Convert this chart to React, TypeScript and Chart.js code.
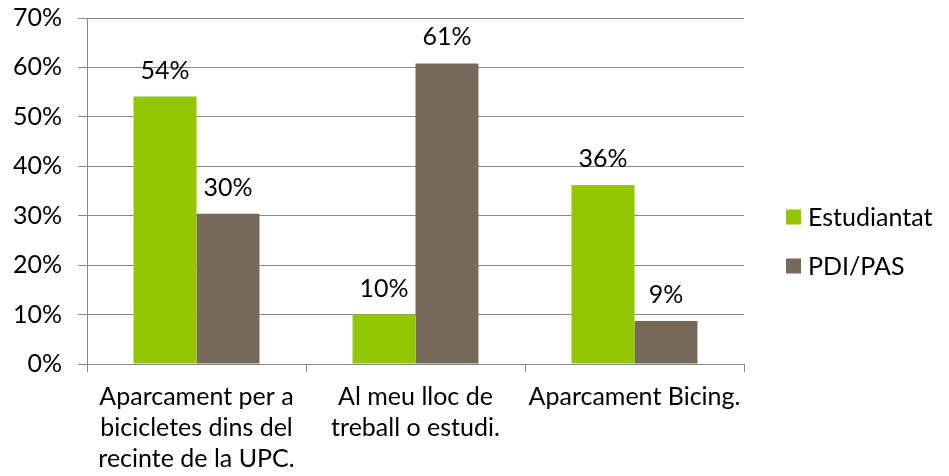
import React, { useEffect, useRef } from "react";
import { Chart, registerables } from "chart.js";

Chart.register(...registerables);

const categories: string[][] = [
  ["Aparcament per a", "bicicletes dins del", "recinte de la UPC."],
  ["Al meu lloc de", "treball o estudi."],
  ["Aparcament Bicing."],
];
const seriesNames = ["Estudiantat", "PDI/PAS"];
const estudiantat = [54.1, 10.0, 36.2];
const pdiPas = [30.4, 60.8, 8.7];
const yTicks = [0, 10, 20, 30, 40, 50, 60, 70];

const GREEN = "#94C600";
const BROWN = "#75695A";
const GRID = "#898989";
const FONT = "Lato, Carlito, 'Noto Sans', sans-serif";
const FSIZE = 25;

const valueLabels = {
  id: "valueLabels",
  afterDatasetsDraw(chart: any) {
    const ctx = chart.ctx;
    ctx.save();
    ctx.font = `${FSIZE}px ${FONT}`;
    ctx.fillStyle = "#000";
    ctx.textAlign = "center";
    ctx.textBaseline = "alphabetic";
    chart.data.datasets.forEach((ds: any, di: number) => {
      const meta = chart.getDatasetMeta(di);
      meta.data.forEach((el: any, i: number) => {
        const v = ds.data[i];
        ctx.fillText(Math.round(v) + "%", el.x, el.y - 18);
      });
    });
    ctx.restore();
  },
};

const customLegend = {
  id: "customLegend",
  afterDraw(chart: any) {
    const ctx = chart.ctx;
    const area = chart.chartArea;
    const x0 = area.right + 42;
    const rows = [217, 266];
    ctx.save();
    ctx.font = `${FSIZE}px ${FONT}`;
    ctx.textAlign = "left";
    ctx.textBaseline = "middle";
    chart.data.datasets.forEach((ds: any, i: number) => {
      const cy = rows[i];
      ctx.fillStyle = ds.backgroundColor;
      ctx.fillRect(x0, cy - 7.5, 15, 15);
      ctx.fillStyle = "#000";
      ctx.fillText(ds.label, x0 + 22, cy + 1);
    });
    ctx.restore();
  },
};

export default function App() {
  const ref = useRef<HTMLCanvasElement | null>(null);
  useEffect(() => {
    if (!ref.current) return;
    const chart = new Chart(ref.current, {
      type: "bar",
      data: {
        labels: categories,
        datasets: [
          { label: seriesNames[0], data: estudiantat, backgroundColor: GREEN },
          { label: seriesNames[1], data: pdiPas, backgroundColor: BROWN },
        ],
      },
      options: {
        responsive: false,
        animation: false,
        layout: { padding: { top: 18, right: 205, left: 0, bottom: 0 } },
        datasets: {
          bar: { categoryPercentage: 0.575, barPercentage: 1 },
        },
        plugins: {
          legend: { display: false },
          tooltip: { enabled: false },
        },
        scales: {
          x: {
            offset: true,
            grid: {
              offset: true,
              drawOnChartArea: false,
              drawTicks: true,
              tickLength: 8,
              color: GRID,
            },
            border: { color: GRID },
            ticks: {
              color: "#000",
              font: { family: FONT, size: FSIZE, lineHeight: 1.24 },
              padding: 9,
              maxRotation: 0,
              autoSkip: false,
            },
            afterFit(scale: any) {
              scale.height = 112;
              scale.paddingLeft = 0;
              scale.paddingRight = 0;
            },
          },
          y: {
            min: 0,
            max: 70,
            afterBuildTicks(scale: any) {
              scale.ticks = yTicks.map((v) => ({ value: v }));
            },
            grid: { color: GRID, tickLength: 9, drawTicks: true },
            border: { color: GRID },
            ticks: {
              color: "#000",
              font: { family: FONT, size: FSIZE },
              padding: 16,
              callback: (v: any) => v + "%",
            },
            afterFit(scale: any) {
              scale.width = 87;
              scale.paddingTop = 0;
              scale.paddingBottom = 0;
            },
          },
        },
      },
      plugins: [valueLabels, customLegend],
    });
    if ((document as any).fonts) {
      (document as any).fonts.load(`${FSIZE}px Lato`).then(() => chart.update());
    }
    return () => chart.destroy();
  }, []);
  return (
    <div style={{ position: "fixed", left: 0, top: 0, width: 949, height: 476, background: "#fff" }}>
      <canvas ref={ref} width={949} height={476} />
    </div>
  );
}
